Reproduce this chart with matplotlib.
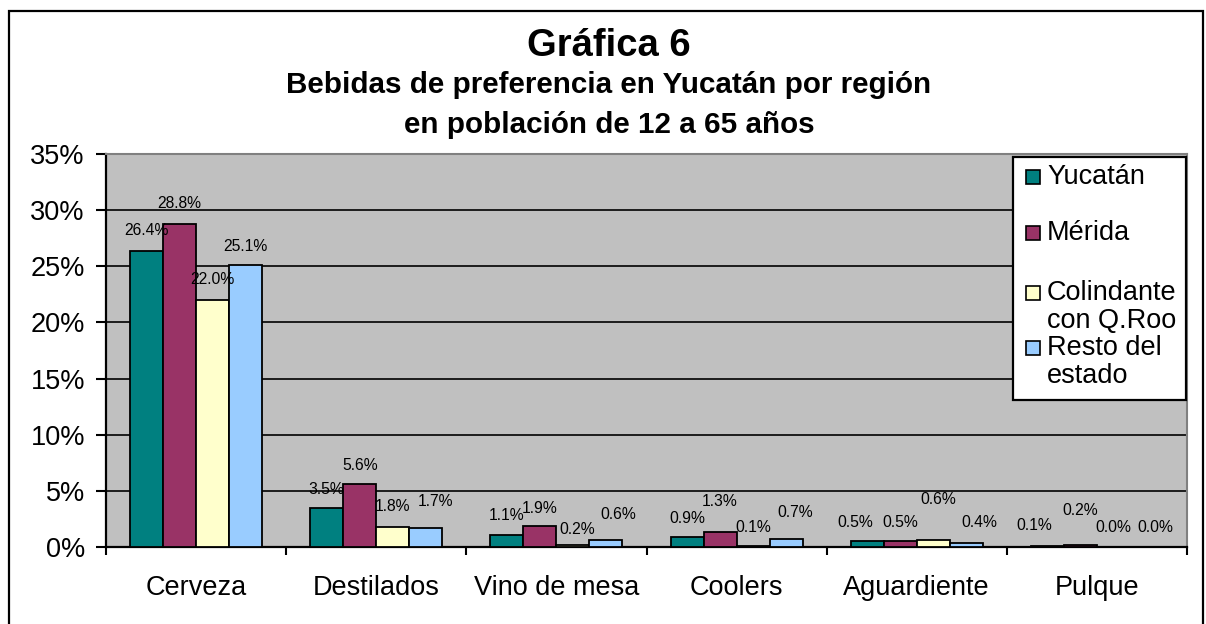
import matplotlib
matplotlib.use("Agg")
import matplotlib.pyplot as plt
from matplotlib.patches import Rectangle
import numpy as np

plt.rcParams['font.family'] = ['Liberation Sans', 'DejaVu Sans']

# ---- data ----
categories = ["Cerveza", "Destilados", "Vino de mesa", "Coolers", "Aguardiente", "Pulque"]
series_names = ["Yucatán", "Mérida", "Colindante\ncon Q.Roo", "Resto del\nestado"]
yucatan    = [26.4, 3.5, 1.1, 0.9, 0.5, 0.1]
merida     = [28.8, 5.6, 1.9, 1.3, 0.5, 0.2]
colindante = [22.0, 1.8, 0.2, 0.1, 0.6, 0.0]
resto      = [25.1, 1.7, 0.6, 0.7, 0.4, 0.0]
series = [yucatan, merida, colindante, resto]
yticks = [0, 5, 10, 15, 20, 25, 30, 35]

colors = ["#008080", "#993366", "#FFFFCC", "#99CCFF"]
# label offsets from bar top (pixels), per series per category
label_dy = [
    [20, 18, 19, 18, 19, 20],
    [20, 19, 17, 31, 19, 34],
    [20, 20, 15, 18, 41, 19],
    [19, 26, 26, 27, 20, 19],
]
label_dx = [
    [0, 0, 0, 0, -12, -13],
    [0, 0, 0, 0, 0, 0],
    [0, 0, 4, 0, 5, 0],
    [0, 10, 12, 9, 13, 9],
]

W, H = 1206, 624
fig = plt.figure(figsize=(W / 100, H / 100), dpi=100)
fig.patch.set_facecolor("white")

def fx(px):
    return px / W

def fy(py):
    return 1 - py / H

# outer frame
fig.patches.append(Rectangle((fx(9), fy(628)), fx(1203) - fx(9), fy(11) - fy(628),
                             transform=fig.transFigure, fill=False,
                             edgecolor="black", linewidth=1.6, zorder=0))

ax_l, ax_r, ax_t, ax_b = 106, 1187, 154, 547
ax = fig.add_axes([fx(ax_l), fy(ax_b), fx(ax_r) - fx(ax_l), fy(ax_t) - fy(ax_b)])
ax.set_facecolor("#C0C0C0")

n = len(categories)
x = np.arange(n)
bw = 33 / 180.0
for j, vals in enumerate(series):
    pos = x + (j - 1.5) * bw
    ax.bar(pos, vals, width=bw, color=colors[j], edgecolor="black",
           linewidth=1.3, zorder=3)
    for i, v in enumerate(vals):
        ax.annotate(f"{v:.1f}%", (pos[i], v),
                    xytext=(label_dx[j][i] * 0.72, label_dy[j][i] * 0.72),
                    textcoords="offset points",
                    ha="center", va="center", fontsize=11.3, color="black", zorder=5)

ax.set_xlim(-0.5, n - 0.5)
ax.set_ylim(0, 35)
ax.set_yticks(yticks)
ax.set_yticklabels([f"{t}%" for t in yticks], fontsize=19.5)
ax.yaxis.grid(True, color="black", linewidth=1.2, zorder=1)
ax.set_axisbelow(True)

ax.set_xticks(x)
ax.set_xticklabels(categories, fontsize=19.5)
ax.set_xticks(np.arange(n + 1) - 0.5, minor=True)
ax.tick_params(axis="x", which="major", length=0, pad=20)
ax.tick_params(axis="x", which="minor", length=6, width=1.5, direction="out")
ax.tick_params(axis="y", length=7.2, width=1.5, direction="out", pad=8)

for s in ["left", "bottom"]:
    ax.spines[s].set_color("black")
    ax.spines[s].set_linewidth(1.6)
for s in ["top", "right"]:
    ax.spines[s].set_color("#808080")
    ax.spines[s].set_linewidth(1.5)

# titles
tx = fx(609)
fig.text(tx, fy(46), "Gráfica 6", ha="center", va="center", fontsize=27.5, fontweight="bold")
fig.text(tx, fy(85), "Bebidas de preferencia en Yucatán por región", ha="center", va="center",
         fontsize=21.3, fontweight="bold")
fig.text(tx, fy(125), "en población de 12 a 65 años", ha="center", va="center",
         fontsize=21.3, fontweight="bold")

# legend (manual, Excel style)
fig.patches.append(Rectangle((fx(1013), fy(400)), fx(1186) - fx(1013), fy(157) - fy(400),
                             transform=fig.transFigure, facecolor="white",
                             edgecolor="black", linewidth=1.6, zorder=10))
leg_y = [177, 233, 293, 348]
line_h = 28
for j, name in enumerate(series_names):
    yc = leg_y[j]
    fig.patches.append(Rectangle((fx(1026), fy(yc + 7)), fx(1040) - fx(1026), fy(yc - 7) - fy(yc + 7),
                                 transform=fig.transFigure, facecolor=colors[j],
                                 edgecolor="black", linewidth=1.2, zorder=11))
    for k, line in enumerate(name.split("\n")):
        fig.text(fx(1047), fy(yc + k * line_h), line, ha="left", va="center",
                 fontsize=19.5, zorder=12)

fig.savefig("out.png", dpi=100)
